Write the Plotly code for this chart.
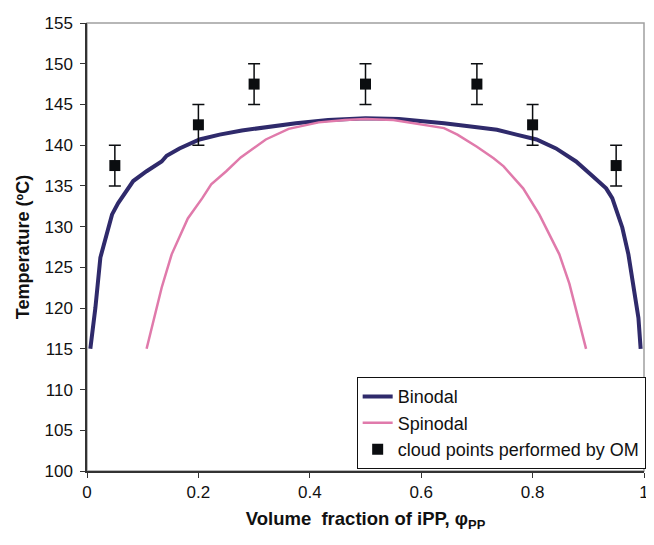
import plotly.graph_objects as go

# Binodal curve
binodal_x = [0.006, 0.015, 0.024, 0.033, 0.045, 0.056, 0.070, 0.083, 0.107, 0.134, 0.143, 0.166,
             0.202, 0.238, 0.278, 0.321, 0.375, 0.433, 0.500, 0.560, 0.641, 0.700, 0.736, 0.771,
             0.807, 0.842, 0.878, 0.908, 0.932, 0.943, 0.961, 0.972, 0.981, 0.990, 0.994]
binodal_t = [115.0, 120.0, 126.2, 128.6, 131.5, 132.9, 134.3, 135.6, 136.8, 138.0, 138.7, 139.6,
             140.7, 141.3, 141.8, 142.2, 142.7, 143.1, 143.3, 143.2, 142.7, 142.2, 141.9, 141.3,
             140.7, 139.6, 138.0, 136.2, 134.7, 133.5, 129.9, 126.6, 123.0, 118.8, 115.0]

# Spinodal curve
spinodal_x = [0.107, 0.134, 0.152, 0.181, 0.207, 0.223, 0.250, 0.276, 0.321, 0.362, 0.416, 0.463,
              0.500, 0.550, 0.641, 0.665, 0.700, 0.730, 0.748, 0.783, 0.812, 0.848, 0.866, 0.896]
spinodal_t = [115.0, 122.5, 126.6, 131.0, 133.5, 135.2, 136.8, 138.5, 140.7, 142.0, 142.8, 143.1,
              143.2, 143.1, 142.1, 141.3, 139.8, 138.4, 137.4, 134.7, 131.5, 126.6, 123.0, 115.0]

# Cloud points (OM)
cloud_x = [0.05, 0.2, 0.3, 0.5, 0.7, 0.8, 0.95]
cloud_t = [137.5, 142.5, 147.5, 147.5, 147.5, 142.5, 137.5]
cloud_err = [2.5, 2.5, 2.5, 2.5, 2.5, 2.5, 2.5]

x_ticks = [0, 0.2, 0.4, 0.6, 0.8, 1]
x_tick_labels = ["0", "0.2", "0.4", "0.6", "0.8", "1"]
y_ticks = [100, 105, 110, 115, 120, 125, 130, 135, 140, 145, 150, 155]

FONT = "Arial, Liberation Sans, sans-serif"

fig = go.Figure()
fig.add_trace(go.Scatter(x=binodal_x, y=binodal_t, mode="lines", name="Binodal",
                         line=dict(color="#2f2a6b", width=4)))
fig.add_trace(go.Scatter(x=spinodal_x, y=spinodal_t, mode="lines", name="Spinodal",
                         line=dict(color="#e07aab", width=2.5)))
fig.add_trace(go.Scatter(x=cloud_x, y=cloud_t, mode="markers", name="cloud points performed by OM",
                         marker=dict(symbol="square", size=11, color="#0b0d10"),
                         error_y=dict(type="data", array=cloud_err, color="#0b0d10",
                                      thickness=1.5, width=6)))

# The page adds an 8px body margin, so the figure is sized 8px smaller.
fig.update_layout(
    width=646, height=537,
    margin=dict(l=78.5, r=5.5, t=14, b=74.3),
    paper_bgcolor="white", plot_bgcolor="white",
    font=dict(family=FONT, color="#111111"),
    showlegend=True,
    legend=dict(x=1.003, y=0.004, xanchor="right", yanchor="bottom",
                bgcolor="white", bordercolor="#111111", borderwidth=1,
                font=dict(size=18, family=FONT, color="#111111"),
                tracegroupgap=0),
    shapes=[dict(type="rect", xref="paper", yref="paper", x0=0, y0=0, x1=1, y1=1,
                 line=dict(color="#a0a0a0", width=1.5), layer="below")],
)
fig.update_xaxes(range=[0, 1], tickvals=x_ticks, ticktext=x_tick_labels,
                 showgrid=False, zeroline=False, showline=True, linecolor="#333333", linewidth=1.5,
                 ticks="outside", ticklen=5, tickcolor="#333333", tickwidth=1,
                 tickfont=dict(size=17, family=FONT, color="#111111"),
                 title=dict(text="<b>Volume  fraction of iPP, φ<sub>PP</sub></b>",
                            font=dict(size=18.5, family=FONT, color="#111111"), standoff=11))
fig.update_yaxes(range=[100, 155], tickvals=y_ticks,
                 showgrid=False, zeroline=False, showline=True, linecolor="#333333", linewidth=1.5,
                 ticks="outside", ticklen=5, tickcolor="#333333", tickwidth=1,
                 ticklabelstandoff=4,
                 tickfont=dict(size=17, family=FONT, color="#111111"),
                 title=dict(text="<b>Temperature (ºC)</b>",
                            font=dict(size=18, family=FONT, color="#111111"), standoff=10))

fig.write_html("out.html")
